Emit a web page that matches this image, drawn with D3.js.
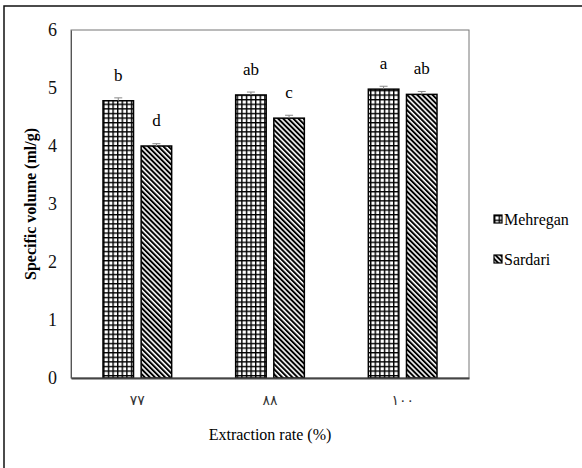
<!DOCTYPE html>
<html>
<head>
<meta charset="utf-8">
<script src="https://cdn.jsdelivr.net/npm/d3@7"></script>
<style>
  body { margin: 0; background: #fff; }
</style>
</head>
<body>
<svg id="chart" width="582" height="468"></svg>
<script>
// data
const rates = ["۷۷", "۸۸", "۱۰۰"];
const varieties = ["Mehregan", "Sardari"];
const mehregan = [4.78, 4.88, 4.98];
const sardari = [4.00, 4.48, 4.89];
const mehreganErr = [0.05, 0.05, 0.05];
const sardariErr = [0.04, 0.05, 0.05];
const mehreganLetters = ["b", "ab", "a"];
const sardariLetters = ["d", "c", "ab"];
const yTicks = [0, 1, 2, 3, 4, 5, 6];

const serif = "'Liberation Serif', 'Times New Roman', 'DejaVu Serif', serif";

const margin = {top: 30, right: 113, bottom: 90, left: 71},
    width = 582 - margin.left - margin.right,
    height = 468 - margin.top - margin.bottom;

const svg = d3.select("#chart").attr("font-family", serif);

// patterns
const defs = svg.append("defs");
const grid = defs.append("pattern")
    .attr("id", "grid")
    .attr("patternUnits", "userSpaceOnUse")
    .attr("width", 4.6).attr("height", 4.6);
grid.append("rect").attr("width", 4.6).attr("height", 4.6).attr("fill", "#fff");
grid.append("path").attr("d", "M0,0.7H4.6M0.7,0V4.6")
    .attr("stroke", "#000").attr("stroke-width", 1.4);

const diag = defs.append("pattern")
    .attr("id", "diag")
    .attr("patternUnits", "userSpaceOnUse")
    .attr("width", 3.6).attr("height", 3.6)
    .attr("patternTransform", "rotate(-45)");
diag.append("rect").attr("width", 3.6).attr("height", 3.6).attr("fill", "#fff");
diag.append("path").attr("d", "M1,0V3.6")
    .attr("stroke", "#000").attr("stroke-width", 2);

// outer frame (only top and left visible in the original)
svg.append("rect")
    .attr("x", 4).attr("y", 6)
    .attr("width", 600).attr("height", 500)
    .attr("fill", "none").attr("stroke", "#111").attr("stroke-width", 1.5);

const g = svg.append("g")
    .attr("transform", "translate(" + margin.left + "," + margin.top + ")");

const x0 = d3.scaleBand().domain(rates).range([0, width]);
const x1 = d3.scaleBand().domain(varieties).range([32, x0.bandwidth() - 32]).paddingInner(0.2);
const y = d3.scaleLinear().domain([0, 6]).range([height, 0]);

// plot frame
g.append("rect")
    .attr("width", width).attr("height", height)
    .attr("fill", "none").attr("stroke", "#777").attr("stroke-width", 1);

const series = [
    {name: "Mehregan", values: mehregan, err: mehreganErr, letters: mehreganLetters, fill: "url(#grid)"},
    {name: "Sardari", values: sardari, err: sardariErr, letters: sardariLetters, fill: "url(#diag)"}
];

series.forEach((s) => {
    const bars = g.append("g");
    rates.forEach((r, i) => {
        const bx = x0(r) + x1(s.name);
        const bw = x1.bandwidth();
        bars.append("rect")
            .attr("x", bx).attr("y", y(s.values[i]))
            .attr("width", bw).attr("height", height - y(s.values[i]))
            .attr("fill", s.fill)
            .attr("stroke", "#000").attr("stroke-width", 1.5);
        const cx = bx + bw / 2;
        bars.append("path")
            .attr("d", "M" + cx + "," + y(s.values[i]) + "V" + y(s.values[i] + s.err[i]) +
                "M" + (cx - 4) + "," + y(s.values[i] + s.err[i]) + "H" + (cx + 4))
            .attr("stroke", "#888").attr("stroke-width", 1);
        bars.append("text")
            .attr("x", cx).attr("y", y(s.values[i]) - 20)
            .attr("text-anchor", "middle")
            .attr("font-family", serif)
            .attr("font-size", "17px")
            .text(s.letters[i]);
    });
});

// x axis
const xAxis = g.append("g")
    .attr("transform", "translate(0," + height + ")")
    .call(d3.axisBottom(x0).tickSize(0).tickPadding(17));
xAxis.select(".domain").attr("stroke", "#444").attr("stroke-width", 2);
xAxis.attr("font-family", "'DejaVu Sans', sans-serif");
xAxis.selectAll("text")
    .attr("font-size", "14px")
    .attr("fill", "#333");

// y axis
const yAxis = g.append("g")
    .call(d3.axisLeft(y).tickValues(yTicks).tickFormat(d3.format("d")).tickSize(0).tickPadding(14));
yAxis.select(".domain").attr("stroke", "#555");
yAxis.attr("font-family", serif);
yAxis.selectAll("text")
    .attr("font-size", "18px")
    .attr("fill", "#111");

g.append("text")
    .attr("transform", "rotate(-90)")
    .attr("x", -height / 2).attr("y", -35)
    .attr("text-anchor", "middle")
    .attr("font-family", serif)
    .attr("font-size", "16px")
    .attr("font-weight", "bold")
    .text("Specific volume (ml/g)");

g.append("text")
    .attr("x", width / 2).attr("y", height + 62)
    .attr("text-anchor", "middle")
    .attr("font-family", serif)
    .attr("font-size", "16px")
    .text("Extraction rate (%)");

// legend
const legend = svg.append("g").attr("transform", "translate(494,215)");
series.forEach((s, i) => {
    const row = legend.append("g").attr("transform", "translate(0," + i * 40 + ")");
    row.append("rect")
        .attr("width", 8).attr("height", 8)
        .attr("fill", s.fill)
        .attr("stroke", "#000").attr("stroke-width", 1.2);
    row.append("text")
        .attr("x", 10).attr("y", 10)
        .attr("font-family", serif)
        .attr("font-size", "16px")
        .text(s.name);
});
</script>
</body>
</html>
